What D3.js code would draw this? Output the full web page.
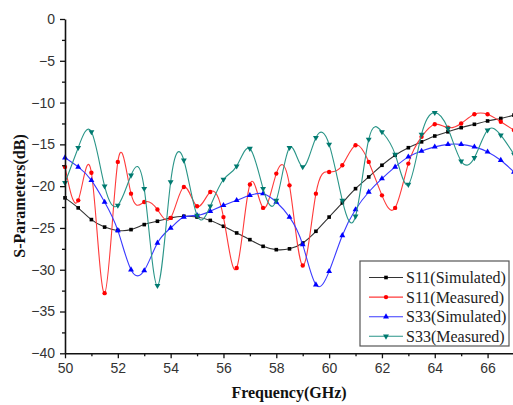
<!DOCTYPE html>
<html>
<head>
<meta charset="utf-8">
<script src="https://cdn.jsdelivr.net/npm/d3@7"></script>
<style>
  html, body { margin: 0; padding: 0; background: #fff; }
  svg { display: block; }
</style>
</head>
<body>
<svg id="chart" width="513" height="405"></svg>
<script>
// Frequency samples (GHz), one every 0.5 GHz
const freq = [50, 50.5, 51, 51.5, 52, 52.5, 53, 53.5, 54, 54.5, 55, 55.5, 56, 56.5, 57, 57.5,
  58, 58.5, 59, 59.5, 60, 60.5, 61, 61.5, 62, 62.5, 63, 63.5, 64, 64.5, 65, 65.5, 66, 66.5, 67];

// S-parameters in dB
const s11Sim = [-21.4, -22.6, -24.0, -24.9, -25.3, -25.2, -24.6, -24.2, -23.8, -23.6, -23.7, -24.1,
  -24.8, -25.6, -26.4, -27.2, -27.6, -27.5, -26.8, -25.4, -23.7, -22.0, -20.3, -18.9, -17.5,
  -16.3, -15.4, -14.7, -14.0, -13.5, -13.0, -12.6, -12.2, -11.9, -11.5];
const s11Meas = [-17.7, -21.7, -18.4, -32.8, -17.1, -20.9, -21.9, -22.8, -23.8, -20.1, -22.4, -20.7,
  -23.7, -29.8, -19.8, -22.6, -18.5, -19.9, -29.5, -20.9, -18.3, -17.5, -15.1, -17.1, -21.1,
  -22.6, -17.3, -14.1, -12.6, -13.0, -12.5, -11.4, -11.4, -12.3, -13.3];
const s33Sim = [-16.6, -17.7, -19.3, -21.9, -25.3, -30.0, -30.1, -26.8, -25.0, -23.7, -23.5, -23.0,
  -22.3, -21.7, -21.1, -20.9, -21.9, -23.7, -27.0, -31.8, -30.2, -25.9, -22.8, -20.7, -19.1,
  -17.7, -16.5, -15.8, -15.3, -15.0, -15.0, -15.3, -15.9, -16.9, -18.3];
const s33Meas = [-19.6, -15.4, -13.5, -20.0, -22.3, -18.7, -20.3, -31.9, -19.5, -16.9, -23.5, -22.4,
  -19.2, -17.6, -15.5, -20.3, -21.7, -15.4, -17.7, -14.2, -15.0, -21.7, -23.6, -14.4, -13.5,
  -16.2, -19.8, -13.8, -11.2, -13.1, -17.0, -16.6, -13.3, -13.9, -16.2];

const seriesNames = ["S11(Simulated)", "S11(Measured)", "S33(Simulated)", "S33(Measured)"];
const xTicks = [50, 52, 54, 56, 58, 60, 62, 64, 66];
const yTicks = [0, -5, -10, -15, -20, -25, -30, -35, -40];

const series = [
  { name: seriesNames[0], values: s11Sim, line: "#333", fill: "#000", symbol: d3.symbolSquare, size: 13 },
  { name: seriesNames[1], values: s11Meas, line: "#ff3a3a", fill: "#ff0000", symbol: d3.symbolCircle, size: 15 },
  { name: seriesNames[2], values: s33Sim, line: "#3a3aff", fill: "#0000ff", symbol: d3.symbolTriangle, size: 15 },
  { name: seriesNames[3], values: s33Meas, line: "#2a9588", fill: "#007a70", symbol: d3.symbolTriangle, size: 15, flip: true }
];

const svg = d3.select("#chart");
const x = d3.scaleLinear().domain([50, 67]).range([65, 514]);
const y = d3.scaleLinear().domain([-40, 0]).range([353.3, 19]);

// Curves through the samples
const line = d3.line().x((d, i) => x(freq[i])).y(d => y(d)).curve(d3.curveNatural);
const gPlot = svg.append("g");
series.forEach(s => {
  gPlot.append("path")
    .attr("d", line(s.values))
    .attr("fill", "none")
    .attr("stroke", s.line)
    .attr("stroke-width", 1.1);
  gPlot.append("g").selectAll("path")
    .data(s.values)
    .join("path")
    .attr("transform", (d, i) => `translate(${x(freq[i])},${y(d)})${s.flip ? " rotate(180)" : ""}`)
    .attr("d", d3.symbol().type(s.symbol).size(s.size))
    .attr("fill", s.fill);
});

// Axes
const axisFont = "'Liberation Sans', Arial, sans-serif";
svg.append("g").attr("transform", `translate(0,${y(-40)})`)
  .call(d3.axisBottom(x).tickValues(xTicks).tickSize(5).tickSizeOuter(0).tickPadding(5));
svg.append("g").attr("transform", `translate(0,${y(-40)})`)
  .call(d3.axisBottom(x).tickValues(d3.range(51, 67, 2)).tickSize(3).tickSizeOuter(0).tickFormat(""))
  .select(".domain").remove();
svg.append("g").attr("transform", `translate(${x(50)},0)`)
  .call(d3.axisLeft(y).tickValues(yTicks).tickSize(5).tickSizeOuter(0).tickPadding(5));
svg.append("g").attr("transform", `translate(${x(50)},0)`)
  .call(d3.axisLeft(y).tickValues(d3.range(-37.5, 0, 5)).tickSize(3).tickSizeOuter(0).tickFormat(""))
  .select(".domain").remove();

svg.selectAll(".domain").attr("stroke", "#111").attr("stroke-width", 1.6);
svg.selectAll(".tick line").attr("stroke", "#111").attr("stroke-width", 1.3);
svg.selectAll(".tick text")
  .attr("font-family", axisFont)
  .attr("font-size", 14)
  .attr("fill", "#333");

// Axis titles
svg.append("text")
  .attr("x", 289).attr("y", 398)
  .attr("text-anchor", "middle")
  .attr("font-family", "'Liberation Serif', 'Times New Roman', serif")
  .attr("font-weight", "bold")
  .attr("font-size", 16)
  .attr("fill", "#111")
  .text("Frequency(GHz)");
svg.append("text")
  .attr("transform", "translate(25,196) rotate(-90)")
  .attr("text-anchor", "middle")
  .attr("font-family", "'Liberation Serif', 'Times New Roman', serif")
  .attr("font-weight", "bold")
  .attr("font-size", 16)
  .attr("fill", "#111")
  .text("S-Parameters(dB)");

// Legend
const legend = svg.append("g");
legend.append("rect")
  .attr("x", 360).attr("y", 261).attr("width", 149).attr("height", 85)
  .attr("fill", "#fff").attr("stroke", "#555").attr("stroke-width", 1.2);
series.forEach((s, i) => {
  const cy = 277.5 + i * 19.6;
  legend.append("line")
    .attr("x1", 369).attr("x2", 403).attr("y1", cy).attr("y2", cy)
    .attr("stroke", s.line).attr("stroke-width", 1.1);
  legend.append("path")
    .attr("transform", `translate(386,${cy})${s.flip ? " rotate(180)" : ""}`)
    .attr("d", d3.symbol().type(s.symbol).size(s.size))
    .attr("fill", s.fill);
  legend.append("text")
    .attr("x", 406).attr("y", cy)
    .attr("dy", "0.35em")
    .attr("font-family", "'Liberation Serif', 'Times New Roman', serif")
    .attr("font-size", 16)
    .attr("fill", "#222")
    .text(s.name);
});
</script>
</body>
</html>
